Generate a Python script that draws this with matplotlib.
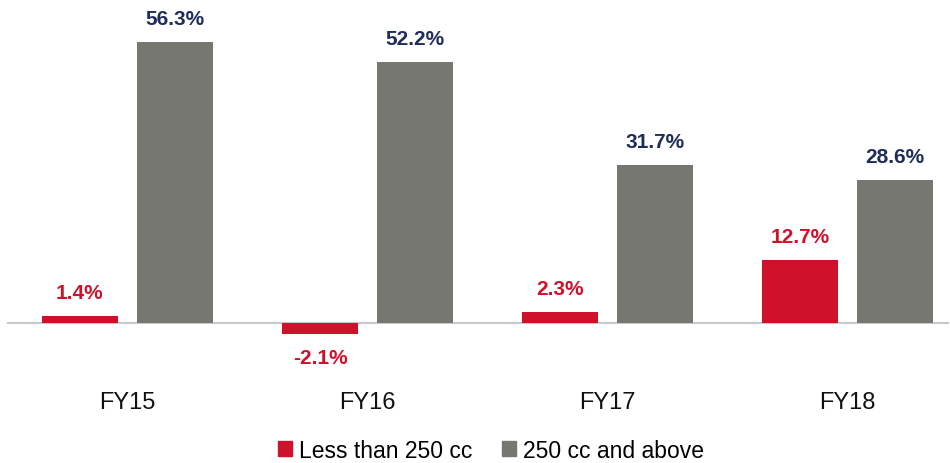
import matplotlib.pyplot as plt
import numpy as np
from matplotlib.patches import Patch

plt.rcParams['font.family'] = ['Liberation Sans', 'DejaVu Sans']

years = ['FY15', 'FY16', 'FY17', 'FY18']
small = [1.4, -2.1, 2.3, 12.7]
large = [56.3, 52.2, 31.7, 28.6]
series_names = ['Less than 250 cc', '250 cc and above']

red = '#D0112B'
grey = '#777772'
navy = '#1F2D5A'

fig = plt.figure(figsize=(9.5, 4.64), dpi=100)
ax = fig.add_axes([0, 0, 1, 1])

x = np.arange(len(years))
w = 0.317
off = 0.198

ax.bar(x - off, small, w, color=red, zorder=2)
ax.bar(x + off, large, w, color=grey, zorder=2)
ax.axhline(0, xmin=8/950, xmax=948/950, color='#c8c8c8', lw=1.5, zorder=1)

for xi, v in zip(x, small):
    dy = 17 if v >= 0 else -17
    ax.annotate(f'{v:.1f}%', (xi - off, v), xytext=(0, dy), textcoords='offset points',
                ha='center', va='center', fontsize=15, fontweight='bold', color=red)
for xi, v in zip(x, large):
    ax.annotate(f'{v:.1f}%', (xi + off, v), xytext=(0, 17), textcoords='offset points',
                ha='center', va='center', fontsize=15, fontweight='bold', color=navy)

for xi, lab in zip(x, years):
    ax.text(xi, -15.8, lab, ha='center', va='center', fontsize=17, color='#111111')

ax.set_xlim(-0.531, 3.427)
ax.set_ylim(-28.0, 64.9)
ax.axis('off')

handles = [Patch(color=red), Patch(color=grey)]
fig.legend(handles, series_names, loc='center', bbox_to_anchor=(0.517, 0.028),
           ncol=2, frameon=False, fontsize=16.5, handlelength=0.6, handleheight=0.6,
           handletextpad=0.3, columnspacing=1.3)

fig.savefig('out.png', dpi=100)
